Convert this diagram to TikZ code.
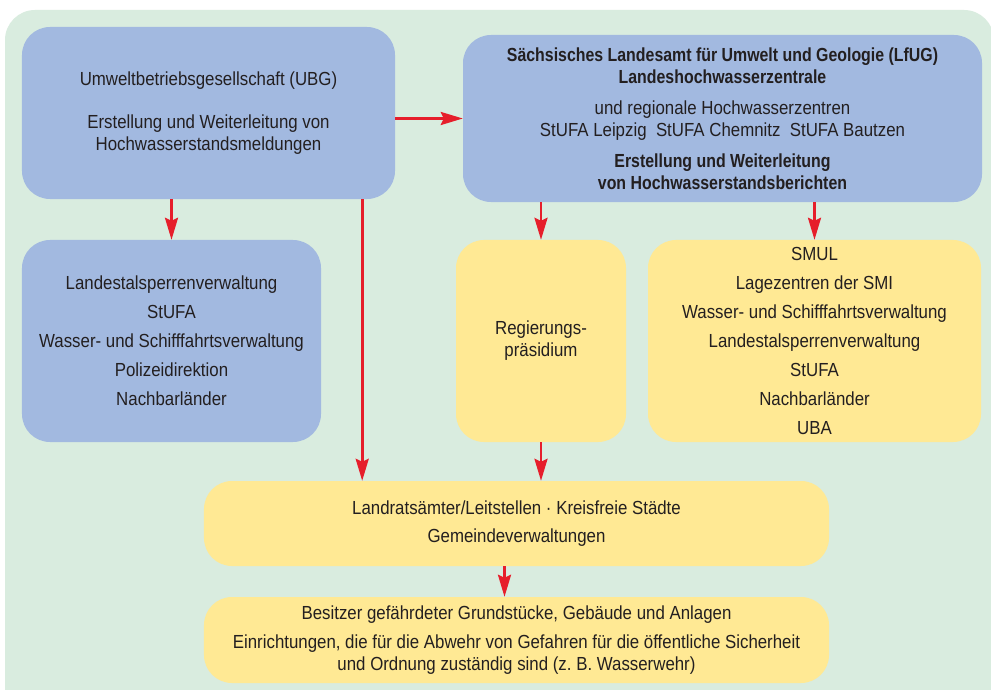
\documentclass[tikz,border=0pt]{standalone}
\usepackage{fontspec}
\setmainfont[FakeStretch=0.89,BoldFeatures={FakeStretch=0.84}]{Liberation Sans}
\usetikzlibrary{arrows.meta}
\definecolor{bggreen}{HTML}{D9ECDF}
\definecolor{boxblue}{HTML}{A2B9E0}
\definecolor{boxyellow}{HTML}{FFE994}
\definecolor{arrred}{HTML}{E61E2B}
\definecolor{txt}{HTML}{231F20}
\frenchspacing
\begin{document}
\begin{tikzpicture}[x=1bp,y=-1bp,
  box/.style={rounded corners=28bp, inner sep=0pt, align=center, text=txt,
    font=\fontsize{19}{22}\selectfont},
  bluebox/.style={box, fill=boxblue},
  yellowbox/.style={box, fill=boxyellow},
  arr/.style={draw=arrred, line width=2.6bp, -{Stealth[length=22bp,width=13bp,inset=3bp]}}]
\useasboundingbox (0,0) rectangle (991,690);
\clip (0,0) rectangle (991,690);
\fill[white] (0,0) rectangle (991,690);
\fill[bggreen, rounded corners=30bp] (5,10) rectangle (994,740);

\node[bluebox, minimum width=373bp, minimum height=172bp] (UBG) at (208.5,113)
  {Umweltbetriebsgesellschaft (UBG)\\[21bp]
   Erstellung und Weiterleitung von\\Hochwasserstandsmeldungen};
\node[bluebox, minimum width=519bp, minimum height=167bp] (LFUG) at (722.5,118.5)
  {\textbf{Sächsisches Landesamt für Umwelt und Geologie (LfUG)}\\
   \textbf{Landeshochwasserzentrale}\\[9bp]
   und regionale Hochwasserzentren\\
   StUFA Leipzig\ \ StUFA Chemnitz\ \ StUFA Bautzen\\[9bp]
   \textbf{Erstellung und Weiterleitung}\\
   \textbf{von Hochwasserstandsberichten}};
\node[bluebox, minimum width=299bp, minimum height=202bp] (LST) at (171.5,341)
  {Landestalsperrenverwaltung\\[7bp] StUFA\\[7bp]
   Wasser- und Schifffahrtsverwaltung\\[7bp] Polizeidirektion\\[7bp] Nachbarländer};
\node[yellowbox, minimum width=170bp, minimum height=202bp] (RP) at (541,341)
  {Regierungs-\\präsidium};
\node[yellowbox, minimum width=333bp, minimum height=202bp] (SMUL) at (814.5,341)
  {SMUL\\[7bp] Lagezentren der SMI\\[7bp] Wasser- und Schifffahrtsverwaltung\\[7bp]
   Landestalsperrenverwaltung\\[7bp] StUFA\\[7bp] Nachbarländer\\[7bp] UBA};
\node[yellowbox, minimum width=625bp, minimum height=85bp] (LR) at (516.5,523.5)
  {Landratsämter/Leitstellen · Kreisfreie Städte\\[6bp] Gemeindeverwaltungen};
\node[yellowbox, minimum width=625bp, minimum height=86bp] (BS) at (516.5,640)
  {Besitzer gefährdeter Grundstücke, Gebäude und Anlagen\\[7bp]
   Einrichtungen, die für die Abwehr von Gefahren für die öffentliche Sicherheit\\
   und Ordnung zuständig sind (z. B. Wasserwehr)};

\coordinate (ubgdown) at ([xshift=-33bp]UBG.south east);
\coordinate (lrdown) at ([xshift=-12bp]LR.south);
\draw[arr] (UBG.east |- LFUG.west) -- (LFUG.west);
\draw[arr] (LST.north |- UBG.south) -- (LST.north);
\draw[arr] (ubgdown) -- (ubgdown |- LR.north);
\draw[arr] (RP.north |- LFUG.south) -- (RP.north);
\draw[arr] (SMUL.north |- LFUG.south) -- (SMUL.north);
\draw[arr] (RP.south) -- (RP.south |- LR.north);
\draw[arr] (lrdown) -- (lrdown |- BS.north);
\end{tikzpicture}
\end{document}
